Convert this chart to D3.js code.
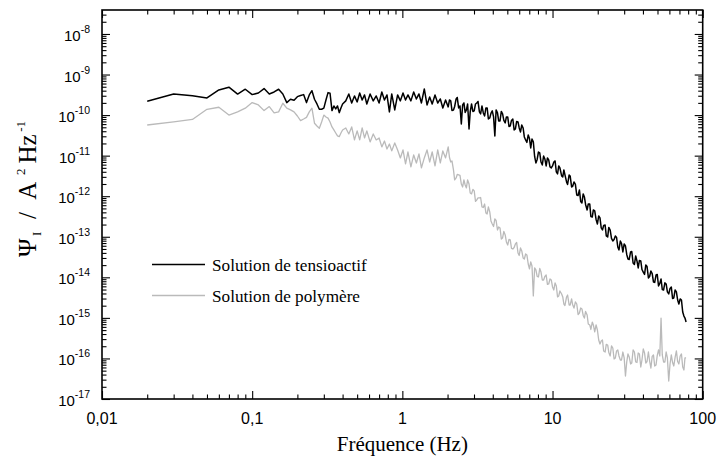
<!DOCTYPE html>
<html><head><meta charset="utf-8">
<script src="https://cdn.jsdelivr.net/npm/d3@7"></script>
<style>body{margin:0;background:#fff}svg{display:block}</style>
</head><body>
<svg id="c" width="718" height="463"></svg>
<script>
// ---- data (frequency in Hz, PSD in A^2/Hz) ----
const freq = [
0.02,0.03,0.04,0.05,0.06,0.07,0.08,0.09,0.10,0.11,0.12,0.13,0.14,0.15,0.16,0.17,0.18,0.19,0.20,
0.21,0.22,0.23,0.24,0.25,0.26,0.27,0.28,0.29,0.30,0.31,0.32,0.33,0.34,0.35,0.36,0.37,0.38,0.39,0.40,
0.42,0.44,0.46,0.48,0.50,0.52,0.54,0.56,0.58,0.61,
0.64,0.67,0.70,0.73,0.76,0.79,0.82,0.85,0.89,0.93,
0.97,1.01,1.05,1.09,1.14,1.19,1.24,1.29,1.34,1.40,
1.46,1.52,1.58,1.65,1.72,1.79,1.86,1.94,2.02,2.10,
2.19,2.28,2.37,2.47,2.57,2.67,2.78,2.89,3.01,3.13,
3.26,3.39,3.53,3.67,3.82,3.97,4.13,4.30,4.47,4.65,
4.84,5.03,5.23,5.44,5.66,5.89,6.12,6.37,6.62,6.89,
7.16,7.45,7.75,8.06,8.38,8.72,9.07,9.43,9.81,10.2,
10.6,11.0,11.5,11.9,12.4,12.9,13.4,13.9,14.5,15.1,
15.7,16.3,17.0,17.7,18.4,19.1,19.9,20.7,21.5,22.4,
23.3,24.2,25.2,26.2,27.2,28.3,29.4,30.6,31.8,33.1,
34.4,35.8,37.2,38.7,40.2,41.8,43.5,45.2,47.0,48.9,
50.8,52.8,54.9,57.1,59.4,61.8,64.2,66.8,69.4,72.2,
75.0,77.5];

const tensioactif = [
2.2e-10,3.3e-10,3.0e-10,2.65e-10,4.17e-10,4.88e-10,3.3e-10,4.34e-10,3.2e-10,3.5e-10,4.5e-10,3.32e-10,3.72e-10,4.34e-10,3.32e-10,2.03e-10,2.46e-10,2.32e-10,2.85e-10,
3.05e-10,3.2e-10,2.03e-10,3.14e-10,4.0e-10,2.46e-10,1.88e-10,1.39e-10,1.39e-10,1.48e-10,2.36e-10,3.58e-10,3.46e-10,1.29e-10,1.68e-10,1.42e-10,1.68e-10,1.15e-10,1.5e-10,1.88e-10,
2.24e-10,3.32e-10,1.99e-10,2.97e-10,2.11e-10,3.52e-10,2.36e-10,3.14e-10,1.88e-10,3.32e-10,
2.24e-10,2.97e-10,1.99e-10,3.72e-10,2.36e-10,3.14e-10,1.2e-10,3.32e-10,1.34e-10,3.14e-10,
2.24e-10,3.52e-10,2.36e-10,3.14e-10,2.24e-10,3.72e-10,2.5e-10,3.32e-10,1.99e-10,4.41e-10,
1.78e-10,2.8e-10,1.88e-10,3.14e-10,1.99e-10,2.5e-10,1.5e-10,2.36e-10,1.59e-10,2.24e-10,
1.34e-10,2.5e-10,1.5e-10,6.05e-11,1.99e-10,1.34e-10,4.55e-11,1.88e-10,1.27e-10,1.99e-10,
1.2e-10,1.68e-10,9.5e-11,1.5e-10,8.5e-11,1.27e-10,3.06e-11,1.13e-10,7.17e-11,1.07e-10,
6.4e-11,9.0e-11,5.4e-11,8.0e-11,4.55e-11,6.78e-11,3.84e-11,4.82e-11,2.44e-11,3.24e-11,
1.55e-11,2.18e-11,6.6e-12,1.23e-11,6.98e-12,9.8e-12,5.57e-12,7.83e-12,4.98e-12,6.98e-12,
3.96e-12,5.57e-12,3.16e-12,4.44e-12,2.25e-12,3.34e-12,1.69e-12,2.25e-12,1.07e-12,1.43e-12,
6.8e-13,9.6e-13,4.58e-13,6.43e-13,3.08e-13,4.33e-13,2.07e-13,2.91e-13,1.47e-13,1.95e-13,
9.9e-14,1.47e-13,7.88e-14,1.05e-13,5.6e-14,7.88e-14,4.22e-14,5.92e-14,2.83e-14,4.22e-14,
2.26e-14,3.36e-14,1.7e-14,2.53e-14,1.35e-14,2.02e-14,9.65e-15,1.43e-14,7.68e-15,1.14e-14,
6.12e-15,9.1e-15,4.88e-15,6.86e-15,3.89e-15,5.78e-15,3.1e-15,4.36e-15,2.2e-15,2.76e-15,
1.11e-15,7.9e-16];

const polymere = [
5.7e-11,6.78e-11,7.8e-11,1.39e-10,1.56e-10,1.0e-10,1.2e-10,1.48e-10,2.03e-10,1.78e-10,1.29e-10,1.62e-10,1.13e-10,1.2e-10,1.96e-10,1.48e-10,1.34e-10,1.2e-10,9.5e-11,
7.3e-11,8.0e-11,8.8e-11,1.2e-10,1.48e-10,6.3e-11,5.4e-11,4.74e-11,6.78e-11,1.0e-10,9.0e-11,8.4e-11,6.78e-11,5.1e-11,4.3e-11,3.62e-11,3.06e-11,2.94e-11,3.62e-11,4.3e-11,
4.82e-11,3.43e-11,5.1e-11,2.44e-11,4.07e-11,2.44e-11,4.82e-11,2.73e-11,4.07e-11,2.18e-11,
3.43e-11,2.44e-11,2.73e-11,1.64e-11,2.3e-11,1.46e-11,1.94e-11,1.31e-11,2.06e-11,1.38e-11,
8.78e-12,1.38e-11,6.24e-12,1.23e-11,5.27e-12,1.04e-11,6.6e-12,1.1e-11,4.98e-12,8.78e-12,
1.38e-11,6.98e-12,1.23e-11,5.57e-12,1.38e-11,6.6e-12,1.31e-11,8.78e-12,1.64e-11,6.98e-12,
4.44e-12,2.82e-12,3.34e-12,2.0e-12,2.52e-12,1.6e-12,2.0e-12,1.14e-12,1.35e-12,8.08e-13,
9.06e-13,5.44e-13,6.43e-13,3.65e-13,4.09e-13,2.07e-13,2.75e-13,1.47e-13,1.65e-13,9.35e-14,
1.11e-13,6.27e-14,8.36e-14,5.0e-14,6.64e-14,3.98e-14,5.31e-14,3.0e-14,3.76e-14,2.13e-14,
2.39e-14,3.47e-15,1.52e-14,1.02e-14,1.35e-14,8.6e-15,1.14e-14,6.86e-15,8.6e-15,4.88e-15,
6.12e-15,3.47e-15,3.89e-15,2.2e-15,3.28e-15,2.08e-15,2.93e-15,1.75e-15,2.2e-15,1.32e-15,
1.66e-15,9.9e-16,1.18e-15,6.7e-16,7.9e-16,4.5e-16,5.03e-16,2.27e-16,2.85e-16,1.44e-16,
2.14e-16,1.15e-16,1.81e-16,1.03e-16,1.62e-16,9.15e-17,1.44e-16,3.69e-17,1.29e-16,7.3e-17,
1.62e-16,8.17e-17,1.36e-16,6.15e-17,1.71e-16,7.72e-17,1.44e-16,5.81e-17,1.22e-16,6.89e-17,
1.62e-16,9.9e-16,8.17e-17,1.44e-16,2.78e-17,1.22e-16,6.51e-17,1.53e-16,7.3e-17,1.29e-16,
5.19e-17,1.03e-16];

// extra readings in the dense (noisy) high-frequency part
const freqExtra = [
2.06,2.14,2.23,2.32,2.42,2.52,2.62,2.72,2.83,2.95,
3.07,3.19,3.32,3.46,3.60,3.74,3.89,4.05,4.21,4.38,
4.56,4.74,4.93,5.13,5.33,5.55,5.77,6.0,6.24,6.49,
6.75,7.02,7.30,7.6,7.9,8.22,8.55,8.89,9.25,9.62,
10.0,10.4,10.8,11.2,11.7,12.1,12.6,13.1,13.6,14.2,
14.8,15.4,16.0,16.6,17.3,18.0,18.7,19.5,20.3,21.1,
21.9,22.8,23.7,24.7,25.7,26.7,27.7,28.8,30.0,31.2,
32.4,33.7,35.1,36.5,37.9,39.4,41.0,42.6,44.3,46.1,
47.9,49.8,51.8,53.8,56.0,58.2,60.6,63.0,65.5,68.1,
70.8,73.6,76.2];

const tensioactifExtra = [
2.36e-10,1.30e-10,1.63e-10,2.72e-10,1.68e-10,1.78e-10,1.16e-10,1.88e-10,1.2e-10,1.23e-10,
1.88e-10,2.17e-10,1.07e-10,1.13e-10,1.5e-10,8.0e-11,1.1e-10,9.0e-11,1.34e-10,7.17e-11,
1.23e-10,7.38e-11,9.0e-11,5.25e-11,7.38e-11,4.3e-11,6.97e-11,4.82e-11,5.7e-11,2.89e-11,
2.12e-11,2.65e-11,2.58e-11,9.55e-12,8.05e-12,1.17e-11,5.9e-12,8.3e-12,8.78e-12,5.27e-12,
5.57e-12,7.4e-12,3.54e-12,4.98e-12,2.98e-12,3.34e-12,1.95e-12,3.16e-12,1.74e-12,1.95e-12,
1.04e-12,7.44e-13,1.14e-12,6.25e-13,6.43e-13,3.17e-13,4.58e-13,2.67e-13,3.26e-13,1.65e-13,
1.9e-13,1.05e-13,1.7e-13,9.1e-14,8.6e-14,9.6e-14,4.73e-14,6.84e-14,6.64e-14,3.66e-14,
2.76e-14,4.34e-14,2.07e-14,2.53e-14,2.6e-14,1.56e-14,1.18e-14,1.85e-14,1.05e-14,1.24e-14,
7.5e-15,1.18e-14,7.06e-15,5.02e-15,7.3e-15,4.36e-15,5.32e-15,3.01e-15,4.88e-15,2.76e-15,
2.93e-15,1.4e-15,9.9e-16];

const polymereExtra = [
9.0e-12,7.4e-12,2.52e-12,3.44e-12,3.25e-12,1.69e-12,1.89e-12,2.52e-12,1.2e-12,1.47e-12,
7.44e-13,9.06e-13,9.3e-13,5.27e-13,3.87e-13,5.44e-13,2.45e-13,1.79e-13,2.52e-13,1.75e-13,
8.8e-14,1.35e-13,7.44e-14,8.6e-14,5.15e-14,5.45e-14,7.23e-14,3.46e-14,4.47e-14,2.83e-14,
3.56e-14,1.61e-14,1.9e-14,1.7e-14,1.05e-14,1.65e-14,8.6e-15,1.05e-14,6.67e-15,9.1e-15,
5.78e-15,7.3e-15,3.28e-15,4.6e-15,3.28e-15,2.02e-15,3.67e-15,2.08e-15,2.14e-15,2.47e-15,
1.21e-15,1.75e-15,1.15e-15,1.44e-15,7.07e-16,5.18e-16,6.7e-16,6.7e-16,2.85e-16,2.7e-16,
1.53e-16,2.21e-16,1.4e-16,2.03e-16,9.7e-17,1.53e-16,1.15e-16,9.15e-17,1.03e-16,8.17e-17,
1.09e-16,7.72e-17,1.44e-16,7.94e-17,1.29e-16,9.15e-17,1.36e-16,8.4e-17,8.65e-17,1.12e-16,
6.51e-17,1.18e-16,1.15e-16,1.22e-16,8.17e-17,1.03e-16,7.3e-17,7.94e-17,1.06e-16,8.4e-17,
1.15e-16,6.15e-17,1.03e-16];

const seriesNames = ["Solution de tensioactif", "Solution de polymère"];
const xTickValues = [0.01, 0.1, 1, 10, 100];
const xTickLabels = ["0,01", "0,1", "1", "10", "100"];
const yTickExponents = [-17, -16, -15, -14, -13, -12, -11, -10, -9, -8];
const xTitle = "Fréquence (Hz)";

// ---- layout ----
const L = 102, R = 702.7, T = 10, B = 399;
const serif = "'Liberation Serif','Times New Roman',Times,serif";
const sans = "'Liberation Sans',Arial,Helvetica,sans-serif";
const svg = d3.select("#c");
const x = d3.scaleLog().domain([0.01, 100]).range([L, R]);
const y = d3.scaleLog().domain([1e-17, 3.9e-8]).range([B, T]);

// minor ticks
const xMinor = [];
for (let d = 0; d < xTickValues.length - 1; d++)
  for (let k = 2; k <= 9; k++) xMinor.push(k * xTickValues[d]);
const yMajor = yTickExponents.map(e => Math.pow(10, e));
const yMinor = [];
yMajor.forEach(v => { for (let k = 2; k <= 9; k++) if (k * v <= 3.9e-8) yMinor.push(k * v); });

function drawAxis(axis, tr) {
  const g = svg.append("g").attr("transform", tr).call(axis);
  g.select(".domain").remove();
  g.selectAll("line").attr("stroke", "#000").attr("stroke-width", 1.1);
  g.selectAll("text").remove();
}
drawAxis(d3.axisBottom(x).tickValues(xTickValues).tickSize(-8), `translate(0,${B})`);
drawAxis(d3.axisBottom(x).tickValues(xMinor).tickSize(-4.5), `translate(0,${B})`);
drawAxis(d3.axisTop(x).tickValues(xTickValues).tickSize(-8), `translate(0,${T})`);
drawAxis(d3.axisTop(x).tickValues(xMinor).tickSize(-4.5), `translate(0,${T})`);
drawAxis(d3.axisLeft(y).tickValues(yMajor).tickSize(-8), `translate(${L},0)`);
drawAxis(d3.axisLeft(y).tickValues(yMinor).tickSize(-4.5), `translate(${L},0)`);
drawAxis(d3.axisRight(y).tickValues(yMajor).tickSize(-8), `translate(${R},0)`);
drawAxis(d3.axisRight(y).tickValues(yMinor).tickSize(-4.5), `translate(${R},0)`);

// frame
svg.append("rect").attr("x", L).attr("y", T).attr("width", R - L).attr("height", B - T)
  .attr("fill", "none").attr("stroke", "#000").attr("stroke-width", 1.6);

// x tick labels
svg.append("g").selectAll("text").data(xTickValues).join("text")
  .attr("x", d => x(d)).attr("y", 424).attr("text-anchor", "middle")
  .attr("font-family", sans).attr("font-size", 16).attr("fill", "#000")
  .text((d, i) => xTickLabels[i]);

// y tick labels
const yl = svg.append("g").selectAll("text").data(yTickExponents).join("text")
  .attr("x", 90).attr("y", d => y(Math.pow(10, d)) + 7).attr("text-anchor", "end")
  .attr("font-family", sans).attr("font-size", 15).attr("fill", "#000");
yl.append("tspan").text("10");
yl.append("tspan").attr("dy", -8).attr("font-size", 10.5).text(d => "-" + Math.abs(d));

// series: merge main and extra readings, ordered by frequency
function series(f1, v1, f2, v2) {
  return f1.map((f, i) => [f, v1[i]]).concat(f2.map((f, i) => [f, v2[i]]))
    .sort((a, b) => a[0] - b[0]);
}
const line = d3.line().x(d => x(d[0])).y(d => y(d[1]));
svg.append("path").datum(series(freq, polymere, freqExtra, polymereExtra))
  .attr("d", line).attr("fill", "none").attr("stroke", "#bababa").attr("stroke-width", 1.3)
  .attr("stroke-linejoin", "round");
svg.append("path").datum(series(freq, tensioactif, freqExtra, tensioactifExtra))
  .attr("d", line).attr("fill", "none").attr("stroke", "#000").attr("stroke-width", 1.5)
  .attr("stroke-linejoin", "round");

// legend
const legColors = ["#000", "#bababa"];
const legY = [264.5, 295.5];
seriesNames.forEach((n, i) => {
  svg.append("line").attr("x1", 152).attr("x2", 205).attr("y1", legY[i]).attr("y2", legY[i])
    .attr("stroke", legColors[i]).attr("stroke-width", 1.6);
  svg.append("text").attr("x", 212).attr("y", legY[i] + 6.5)
    .attr("font-family", serif).attr("font-size", 17.2).attr("fill", "#000").text(n);
});

// axis titles
svg.append("text").attr("x", (L + R) / 2).attr("y", 451).attr("text-anchor", "middle")
  .attr("font-family", serif).attr("font-size", 21).attr("fill", "#000").text(xTitle);

const yt = svg.append("text").attr("transform", "translate(36,189) rotate(-90)")
  .attr("text-anchor", "middle").attr("font-family", serif).attr("font-size", 25).attr("fill", "#000");
yt.append("tspan").text("Ψ");
yt.append("tspan").attr("dy", 5).attr("font-size", 13).text("\u2009I");
yt.append("tspan").attr("dy", -5).text("\u2002/\u2002A");
yt.append("tspan").attr("dy", -11).attr("font-size", 13).text("\u20022");
yt.append("tspan").attr("dy", 11).text("\u2009Hz");
yt.append("tspan").attr("dy", -11).attr("font-size", 13).text("\u2009-1");
</script>
</body></html>
